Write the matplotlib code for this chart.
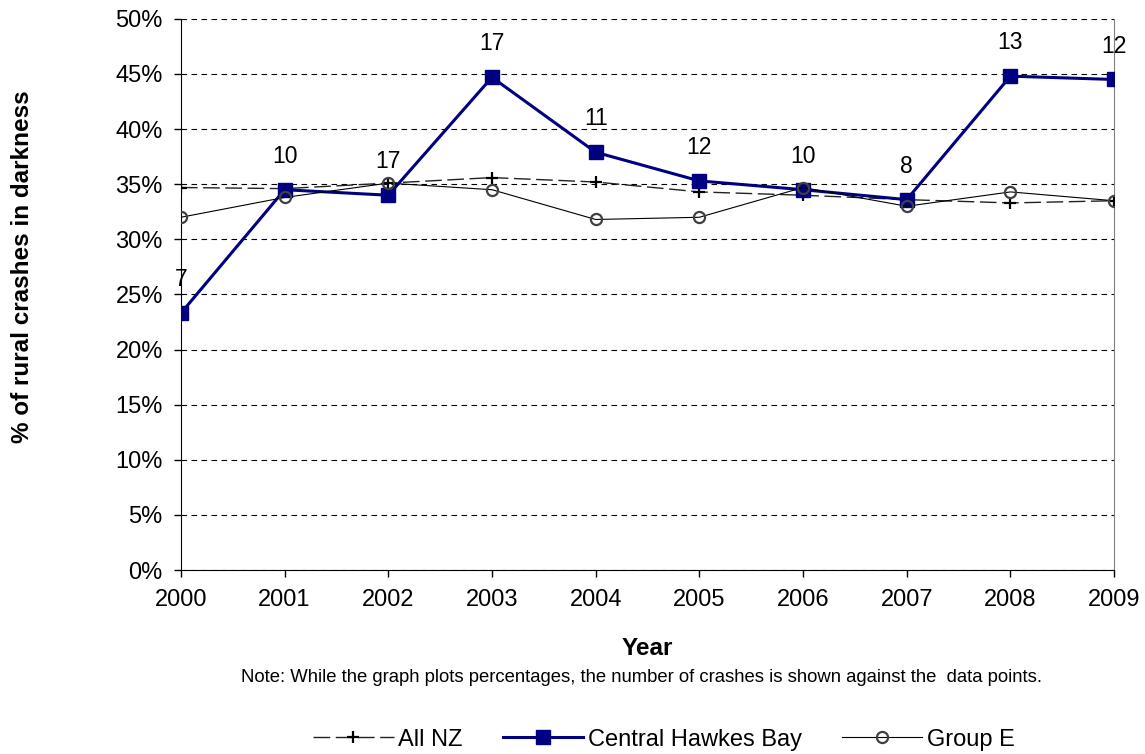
import matplotlib
matplotlib.use("Agg")
import matplotlib.pyplot as plt
from matplotlib.ticker import FuncFormatter, MultipleLocator

plt.rcParams['font.family'] = ['Liberation Sans', 'DejaVu Sans']

years = [2000, 2001, 2002, 2003, 2004, 2005, 2006, 2007, 2008, 2009]
all_nz = [34.7, 34.6, 35.1, 35.6, 35.2, 34.3, 34.0, 33.6, 33.3, 33.5]
chb = [23.3, 34.5, 34.0, 44.7, 37.9, 35.3, 34.5, 33.6, 44.8, 44.5]
group_e = [32.0, 33.8, 35.1, 34.5, 31.8, 32.0, 34.7, 33.0, 34.3, 33.5]
crash_counts = [7, 10, 17, 17, 11, 12, 10, 8, 13, 12]

fig = plt.figure(figsize=(11.45, 7.54), dpi=100)
ax = fig.add_axes([0.158, 0.244, 0.815, 0.731])

ax.plot(years, all_nz, color='#222222', lw=1, dashes=(12, 4), marker='+',
        markersize=9, markeredgewidth=1.6, markeredgecolor='black',
        label='All NZ', zorder=3)
ax.plot(years, chb, color='#000080', lw=2.2, marker='s', markersize=10,
        label='Central Hawkes Bay', zorder=4)
ax.plot(years, group_e, color='black', lw=0.8, marker='o', markersize=8,
        markerfacecolor='none', markeredgecolor='#404040', markeredgewidth=1.6,
        label='Group E', zorder=5)

for x, y, n in zip(years, chb, crash_counts):
    ax.annotate(str(n), (x, y), xytext=(0, 24), textcoords='offset points',
                ha='center', va='center', fontsize=16.5)

ax.set_xlim(2000, 2009)
ax.set_ylim(0, 50)
ax.set_xticks(years)
ax.yaxis.set_major_locator(MultipleLocator(5))
ax.yaxis.set_major_formatter(FuncFormatter(lambda v, p: f"{int(round(v))}%"))
ax.tick_params(axis='both', labelsize=17, direction='out', length=5, width=1)
ax.tick_params(axis='x', pad=9)
ax.tick_params(axis='y', pad=8)
ax.grid(axis='y', linestyle=(0, (5, 4)), color='black', lw=0.8)
ax.set_axisbelow(True)
ax.spines['top'].set_visible(False)
ax.spines['right'].set_color('#808080')
ax.spines['left'].set_color('black')
ax.spines['bottom'].set_color('black')

fig.text(0.565, 0.14, 'Year', ha='center', va='center', fontsize=17.5,
         fontweight='bold')
fig.text(0.02, 0.646, '% of rural crashes in darkness', rotation=90,
         ha='center', va='center', fontsize=17.5, fontweight='bold')
fig.text(0.56, 0.102, 'Note: While the graph plots percentages, the number of crashes is shown against the  data points.',
         ha='center', va='center', fontsize=13.3)

fig.legend(loc='center', bbox_to_anchor=(0.58, 0.019), ncol=3, frameon=False,
           fontsize=17, handlelength=3.4, columnspacing=1.7, handletextpad=0.2)

fig.savefig('out.png', dpi=100)
